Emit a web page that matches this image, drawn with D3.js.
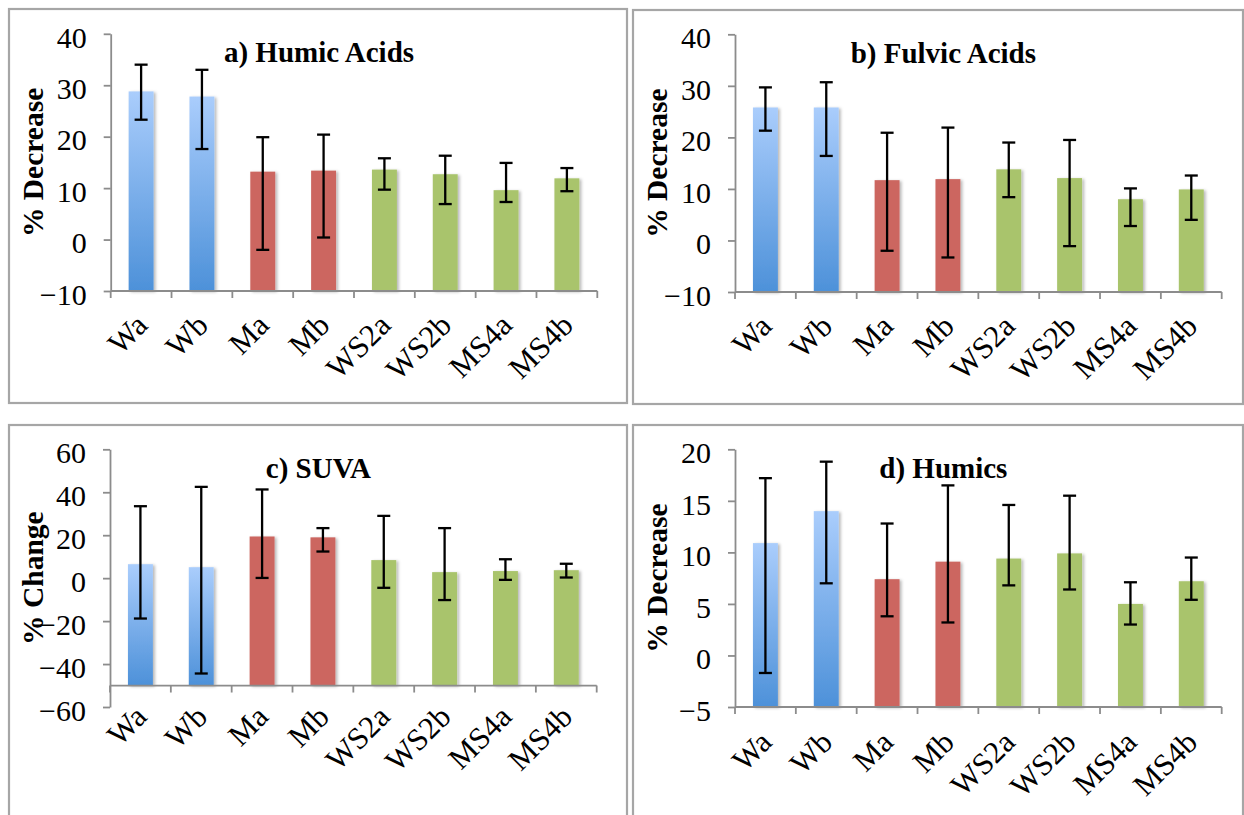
<!DOCTYPE html>
<html>
<head>
<meta charset="utf-8">
<script src="https://cdn.jsdelivr.net/npm/d3@7"></script>
<style>
  body { margin: 0; background: #fff; }
  svg { display: block; }
  text { font-family: "Liberation Serif", "Times New Roman", Times, serif; fill: #000; }
</style>
</head>
<body>
<svg id="chart" width="1244" height="815"></svg>
<script>
// Sample sites and their treatment group
const categories = ["Wa", "Wb", "Ma", "Mb", "WS2a", "WS2b", "MS4a", "MS4b"];
const groupOf = ["water", "water", "manure", "manure", "mix", "mix", "mix", "mix"];

// a) Humic acids, % decrease (mean, upper and lower error-bar ends)
const humicAcidMean = [28.8, 27.8, 13.2, 13.4, 13.6, 12.7, 9.6, 11.9];
const humicAcidHigh = [34.0, 33.0, 19.9, 20.4, 15.8, 16.3, 14.9, 13.9];
const humicAcidLow  = [23.3, 17.6, -2.0, 0.4, 9.7, 6.9, 7.3, 9.4];

// b) Fulvic acids, % decrease
const fulvicAcidMean = [25.8, 25.8, 11.7, 11.9, 13.8, 12.1, 8.0, 9.9];
const fulvicAcidHigh = [29.7, 30.7, 20.9, 21.9, 19.0, 19.5, 10.1, 12.6];
const fulvicAcidLow  = [21.3, 16.4, -2.0, -3.3, 8.4, -1.1, 2.8, 4.0];

// c) SUVA, % change
const suvaMean = [6.5, 5.1, 19.4, 19.0, 8.4, 2.8, 3.3, 3.7];
const suvaHigh = [33.5, 42.5, 41.3, 23.3, 29.0, 23.3, 8.8, 6.7];
const suvaLow  = [-18.8, -44.4, 0.1, 12.4, -4.5, -10.2, -0.8, 0.3];

// d) Humics, % decrease
const humicsMean = [10.9, 14.0, 7.4, 9.1, 9.4, 9.9, 5.0, 7.2];
const humicsHigh = [17.2, 18.8, 12.8, 16.5, 14.6, 15.5, 7.1, 9.5];
const humicsLow  = [-1.7, 7.0, 3.8, 3.2, 6.8, 6.4, 3.0, 5.4];

// Value-axis tick labels
const ticksAcids = [-10, 0, 10, 20, 30, 40];
const ticksSuva = [-60, -40, -20, 0, 20, 40, 60];
const ticksHumics = [-5, 0, 5, 10, 15, 20];

const panels = [
  { title: "a) Humic Acids", yTitle: "% Decrease", mean: humicAcidMean, high: humicAcidHigh, low: humicAcidLow,
    ticks: ticksAcids, crossAt: -10,
    frame: [9, 9, 618, 394], xRange: [110.7, 597.3], yRange: [291, 33.8], labelDrop: 36 },
  { title: "b) Fulvic Acids", yTitle: "% Decrease", mean: fulvicAcidMean, high: fulvicAcidHigh, low: fulvicAcidLow,
    ticks: ticksAcids, crossAt: -10,
    frame: [633, 10, 610, 394], xRange: [735, 1221.7], yRange: [292, 34.3], labelDrop: 36 },
  { title: "c) SUVA", yTitle: "% Change", mean: suvaMean, high: suvaHigh, low: suvaLow,
    ticks: ticksSuva, crossAt: -50,
    frame: [9, 425, 618, 410], xRange: [110, 596.7], yRange: [707, 449.3], labelDrop: 33 },
  { title: "d) Humics", yTitle: "% Decrease", mean: humicsMean, high: humicsHigh, low: humicsLow,
    ticks: ticksHumics, crossAt: -5,
    frame: [633, 425, 610, 410], xRange: [735, 1221.7], yRange: [707, 449.3], labelDrop: 37 }
];

const svg = d3.select("#chart");
const defs = svg.append("defs");

const blue = defs.append("linearGradient")
  .attr("id", "blueFill").attr("x1", 0).attr("y1", 0).attr("x2", 0).attr("y2", 1);
blue.append("stop").attr("offset", 0).attr("stop-color", "#aacdfc");
blue.append("stop").attr("offset", 1).attr("stop-color", "#4d91d9");

const shadow = defs.append("filter").attr("id", "barShadow")
  .attr("x", "-30%").attr("y", "-10%").attr("width", "160%").attr("height", "120%");
shadow.append("feDropShadow").attr("dx", 2).attr("dy", 1).attr("stdDeviation", 1.6)
  .attr("flood-color", "#000").attr("flood-opacity", 0.28);

const fills = { water: "url(#blueFill)", manure: "#cc6660", mix: "#a9c46c" };
const axisColor = "#8c8c8c";

panels.forEach(p => {
  const g = svg.append("g");
  const [fx, fy, fw, fh] = p.frame;

  // chart frame
  g.append("rect")
    .attr("x", fx).attr("y", fy).attr("width", fw).attr("height", fh)
    .attr("fill", "none").attr("stroke", "#a6a6a6").attr("stroke-width", 2.2);

  const x = d3.scaleBand().domain(categories).range(p.xRange)
    .paddingInner(0.59).paddingOuter(0.295);
  const y = d3.scaleLinear().domain(d3.extent(p.ticks)).range(p.yRange);
  const baseY = y(p.crossAt);

  // value axis
  const yAxis = d3.axisLeft(y).tickValues(p.ticks).tickSize(7).tickSizeOuter(0).tickPadding(17);
  const ya = g.append("g").attr("transform", `translate(${p.xRange[0]},0)`).call(yAxis);
  ya.select(".domain").attr("stroke", axisColor).attr("stroke-width", 1.8);
  ya.selectAll(".tick line").attr("stroke", axisColor).attr("stroke-width", 1.8);
  ya.selectAll(".tick text")
    .attr("font-family", null).attr("font-size", 30).attr("dy", "0.44em");

  // bars
  g.selectAll("rect.bar").data(categories).join("rect")
    .attr("class", "bar")
    .attr("x", c => x(c))
    .attr("width", x.bandwidth())
    .attr("y", (c, i) => y(p.mean[i]))
    .attr("height", (c, i) => baseY - y(p.mean[i]))
    .attr("fill", (c, i) => fills[groupOf[i]])
    .attr("filter", "url(#barShadow)");

  // category axis, drawn where the value axis crosses
  g.append("line")
    .attr("x1", p.xRange[0]).attr("x2", p.xRange[1])
    .attr("y1", baseY).attr("y2", baseY)
    .attr("stroke", axisColor).attr("stroke-width", 1.8);
  const gap = (x.step() - x.bandwidth()) / 2;
  const bounds = categories.map(c => x(c) - gap).concat([p.xRange[1]]);
  g.selectAll("line.ctick").data(bounds).join("line")
    .attr("class", "ctick")
    .attr("x1", d => d).attr("x2", d => d)
    .attr("y1", baseY).attr("y2", baseY + 7)
    .attr("stroke", axisColor).attr("stroke-width", 1.8);

  g.selectAll("text.clabel").data(categories).join("text")
    .attr("class", "clabel")
    .attr("text-anchor", "end")
    .attr("font-size", 31)
    .attr("transform", c => `translate(${x(c) + x.bandwidth() / 2 + 8},${baseY + p.labelDrop}) rotate(-45)`)
    .text(c => c);

  // error bars
  const cap = 6.5;
  categories.forEach((c, i) => {
    const cx = x(c) + x.bandwidth() / 2;
    const yh = y(p.high[i]), yl = y(p.low[i]);
    const eb = g.append("g").attr("stroke", "#000").attr("stroke-width", 2.3);
    eb.append("line").attr("x1", cx).attr("x2", cx).attr("y1", yh).attr("y2", yl);
    eb.append("line").attr("x1", cx - cap).attr("x2", cx + cap).attr("y1", yh).attr("y2", yh);
    eb.append("line").attr("x1", cx - cap).attr("x2", cx + cap).attr("y1", yl).attr("y2", yl);
  });

  // chart title
  g.append("text")
    .attr("x", (p.xRange[0] + p.xRange[1]) / 2 - 35)
    .attr("y", fy + 53)
    .attr("text-anchor", "middle")
    .attr("font-size", 29)
    .attr("font-weight", "bold")
    .text(p.title);

  // value-axis title
  const midY = (p.yRange[0] + p.yRange[1]) / 2;
  g.append("text")
    .attr("transform", `translate(${fx + 34},${midY}) rotate(-90)`)
    .attr("text-anchor", "middle")
    .attr("font-size", 29.5)
    .attr("font-weight", "bold")
    .text(p.yTitle);
});
</script>
</body>
</html>
